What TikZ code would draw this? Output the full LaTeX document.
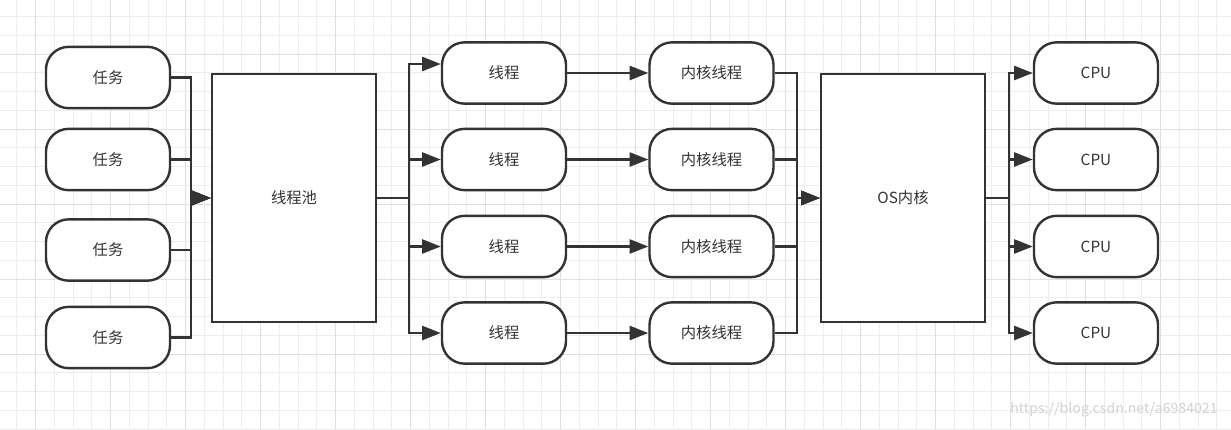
\documentclass[tikz,border=0pt]{standalone}
\usepackage{fontspec}
\setmainfont{Noto Sans CJK SC}
\usetikzlibrary{arrows.meta,calc}

\definecolor{linegray}{HTML}{333333}
\definecolor{gridminor}{HTML}{EDEDED}
\definecolor{gridmajor}{HTML}{DFDFDF}

\tikzset{
    pill/.style={draw=linegray, line width=1.8pt, rounded corners=17pt, fill=white,
        minimum width=93pt, minimum height=46pt, text=linegray,
        font=\fontsize{11.5pt}{14pt}\selectfont},
    bigbox/.style={draw=linegray, line width=1.8pt, fill=white,
        minimum width=123pt, minimum height=186pt, text=linegray,
        font=\fontsize{11.5pt}{14pt}\selectfont},
    flow/.style={draw=linegray, line width=1.8pt, -{Triangle[length=14pt,width=10.5pt]}},
}

\begin{document}
\begin{tikzpicture}[x=0.75pt, y=-0.75pt]
        \useasboundingbox (0,0) rectangle (1231,429);
        \fill[white] (0,0) rectangle (1231,429);

        % Grid
        \begin{scope}
            \clip (0,0) rectangle (1231,429);
            \foreach \i in {-1,...,64}
                \draw[gridminor, line width=0.75pt] ({35.7+\i*18.75},0) -- ({35.7+\i*18.75},429);
            \foreach \j in {-2,...,20}
                \draw[gridminor, line width=0.75pt] (0,{54+\j*18.75}) -- (1231,{54+\j*18.75});
            \foreach \i in {0,4,...,60}
                \draw[gridmajor, line width=0.75pt] ({35.7+\i*18.75},0) -- ({35.7+\i*18.75},429);
            \foreach \j in {0,...,4}
                \draw[gridmajor, line width=0.75pt] (0,{54+\j*75}) -- (1231,{54+\j*75});
        \end{scope}

        % Tasks and pool
        \foreach \y [count=\i] in {77.5,159.5,250,337.5}
            \node[pill] (task\i) at (108,\y) {任务};
        \node[bigbox] (pool) at (294,198) {线程池};

        % Threads, kernel threads, CPUs
        \foreach \y [count=\i] in {73,159.5,246.5,333} {
            \node[pill] (thr\i) at (504,\y) {线程};
            \node[pill] (kt\i) at (711.5,\y) {内核线程};
            \node[pill] (cpu\i) at (1096,\y) {CPU};
        }
        \node[bigbox] (os) at (903,198) {OS内核};

        \coordinate (poolin) at ($(pool.west)+(-20,0)$);
        \coordinate (poolout) at ($(pool.east)+(32,0)$);
        \coordinate (osin) at ($(os.west)+(-23,0)$);
        \coordinate (osout) at ($(os.east)+(23,0)$);

        % Connectors
        \foreach \i in {1,...,4}
            \draw[flow] (task\i.east) -| (poolin) -- (pool.west);
        \draw[flow] (pool.east) -- (poolout) |- ($(thr1.west)+(0,-9)$);
        \foreach \i in {2,3,4}
            \draw[flow] (pool.east) -- (poolout) |- (thr\i.west);
        \foreach \i in {1,...,4} {
            \draw[flow] (thr\i) -- (kt\i);
            \draw[flow] (kt\i.east) -| (osin) -- (os.west);
            \draw[flow] (os.east) -- (osout) |- (cpu\i.west);
        }

        \node[text=gray!35, font=\fontsize{10.6pt}{12pt}\selectfont] (mark) at (1114,410) {https://blog.csdn.net/a6984021};
    \end{tikzpicture}
\end{document}
